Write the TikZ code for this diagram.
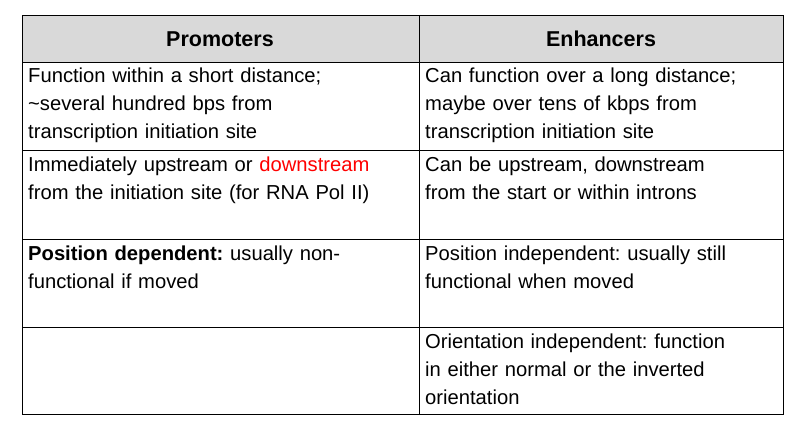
\documentclass[tikz,border=0pt]{standalone}
\usepackage{fontspec}
\setmainfont{Liberation Sans}
\frenchspacing
\begin{document}
\begin{tikzpicture}[x=1pt,y=-1pt,
  cell/.style={anchor=north west,inner sep=0pt,text width=390pt,align=left,font=\fontsize{20.2}{28}\selectfont},
  head/.style={inner sep=0pt,font=\fontsize{21.5}{24}\selectfont\bfseries}]
\useasboundingbox (0,0) rectangle (798,442);
\fill[gray!30] (22,15) rectangle (783,62);
\draw[line width=0.8pt] (22,15) rectangle (783,414);
\draw[line width=0.8pt] (419,15) -- (419,414);
\foreach \y in {62,150,239,327} \draw[line width=0.8pt] (22,\y) -- (783,\y);
\node[head] (h1) at (220,39) {Promoters};
\node[head] (h2) at (601,39) {Enhancers};
\node[cell] (a1) at (28,68) {Function within a short distance;\\ \textasciitilde several hundred bps from\\ transcription initiation site};
\node[cell] (b1) at (425,68) {Can function over a long distance;\\ maybe over tens of kbps from\\ transcription initiation site};
\node[cell] (a2) at (28,157) {Immediately upstream or \textcolor{red}{downstream}\\ from the initiation site (for RNA Pol II)};
\node[cell] (b2) at (425,157) {Can be upstream, downstream\\ from the start or within introns};
\node[cell] (a3) at (28,246) {\textbf{Position dependent:} usually non-\\ functional if moved};
\node[cell] (b3) at (425,246) {Position independent: usually still\\ functional when moved};
\node[cell] (b4) at (425,334) {Orientation independent: function\\ in either normal or the inverted\\ orientation};
\end{tikzpicture}
\end{document}
